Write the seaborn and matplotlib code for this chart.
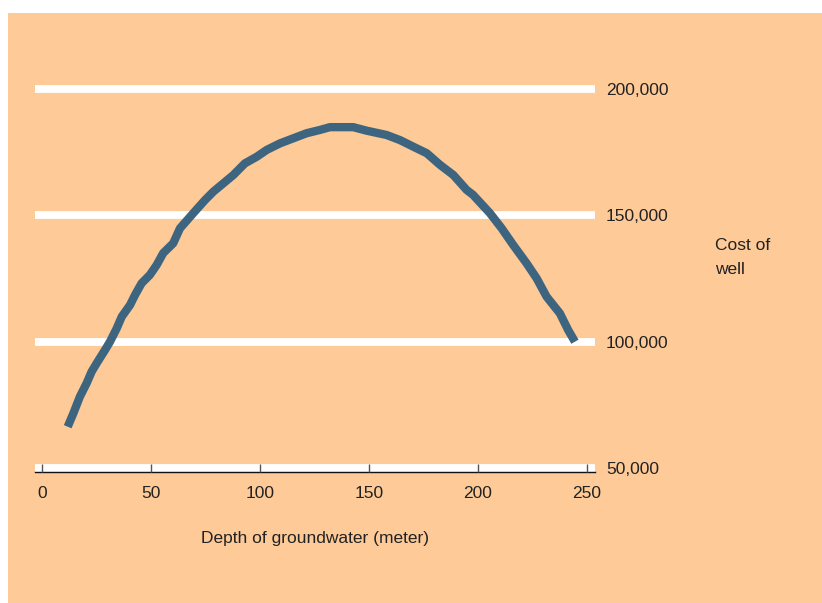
import matplotlib
matplotlib.use("Agg")
import matplotlib.pyplot as plt
from matplotlib.patches import Rectangle
import seaborn as sns
import pandas as pd

depth = [11.8, 14.4, 17.4, 20.5, 22.8, 25.1, 28.9, 31.2, 34.3, 36.6, 40.4, 42.7,
         45.7, 49.5, 52.6, 55.6, 60.2, 63.3, 69.4, 74.8, 78.6, 83.2, 87.8, 93.1,
         98.5, 103.1, 109.2, 115.3, 121.4, 127.5, 132.1, 142.8, 149.0, 158.1,
         164.2, 170.3, 176.5, 182.6, 188.7, 194.8, 197.8, 205.5, 210.9, 216.2,
         222.3, 226.9, 231.5, 237.6, 241.4, 244.5]
cost = [66500, 71800, 78400, 83700, 88300, 91600, 96800, 100100, 105400, 110000,
        114600, 118600, 123200, 126500, 130400, 135100, 139000, 144900, 150900,
        156100, 159400, 162700, 166000, 170600, 173200, 175900, 178500, 180500,
        182500, 183800, 184900, 184900, 183500, 181800, 179800, 177200, 174600,
        170000, 166000, 160100, 158100, 150900, 144900, 138300, 131100, 125200,
        117900, 111300, 104700, 100100]

x_ticks = [0, 50, 100, 150, 200, 250]
y_ticks = [50000, 100000, 150000, 200000]
y_tick_labels = ["50,000", "100,000", "150,000", "200,000"]
x_label = "Depth of groundwater (meter)"
y_label = ["Cost of", "well"]

PEACH = "#FDCA98"
LINE = "#3E6580"
TEXT = "#222222"
FS = 12.5

sns.set_style("white")
plt.rcParams["font.family"] = ["Liberation Sans", "DejaVu Sans"]

W, H = 822, 603
fig = plt.figure(figsize=(W / 100, H / 100), dpi=100)
fig.patch.set_facecolor("white")
bg = Rectangle((8 / W, 0), 1 - 8 / W, (H - 13) / H,
               transform=fig.transFigure, facecolor=PEACH,
               edgecolor="none", zorder=-10)
fig.patches.append(bg)

ymin, ymax = 48600, 215000
px_per_unit = 126.5 / 50000
ax_h_px = (ymax - ymin) * px_per_unit
ax_bottom_px = H - 472
ax = fig.add_axes([35 / W, ax_bottom_px / H, (595 - 35) / W, ax_h_px / H])
ax.set_facecolor("none")
ax.set_zorder(1)

df = pd.DataFrame({"depth": depth, "cost": cost})
sns.lineplot(data=df, x="depth", y="cost", ax=ax, color=LINE, linewidth=6,
             solid_capstyle="butt", solid_joinstyle="round", sort=False,
             estimator=None, zorder=2)

ax.set_xlim(-3.2, 253.7)
ax.set_ylim(ymin, ymax)

# horizontal white bands
ax.grid(False)
ax.yaxis.grid(True, color="white", linewidth=5.6)
ax.xaxis.grid(False)
ax.yaxis.set_zorder(1)
ax.xaxis.set_zorder(3)

for s in ["top", "left", "right"]:
    ax.spines[s].set_visible(False)
ax.spines["bottom"].set_color("#111111")
ax.spines["bottom"].set_linewidth(1.0)
ax.spines["bottom"].set_zorder(3)

ax.set_xticks(x_ticks)
ax.set_xticklabels([str(t) for t in x_ticks])
ax.tick_params(axis="x", direction="in", length=6, width=1, color="#555555",
               pad=10, labelsize=FS, labelcolor=TEXT, bottom=True)

ax.set_yticks(y_ticks)
ax.set_yticklabels(y_tick_labels)
ax.yaxis.tick_right()
ax.tick_params(axis="y", length=0, pad=8, labelsize=FS, labelcolor=TEXT,
               left=False, right=False)

ax.set_xlabel(x_label, fontsize=FS, color=TEXT, labelpad=22)
ax.set_ylabel("")

fig.text(715 / W, 1 - 250 / H, y_label[0], fontsize=FS, color=TEXT,
         ha="left", va="baseline")
fig.text(715 / W, 1 - 274 / H, y_label[1], fontsize=FS, color=TEXT,
         ha="left", va="baseline")

fig.savefig("out.png", dpi=100, facecolor=fig.get_facecolor())
